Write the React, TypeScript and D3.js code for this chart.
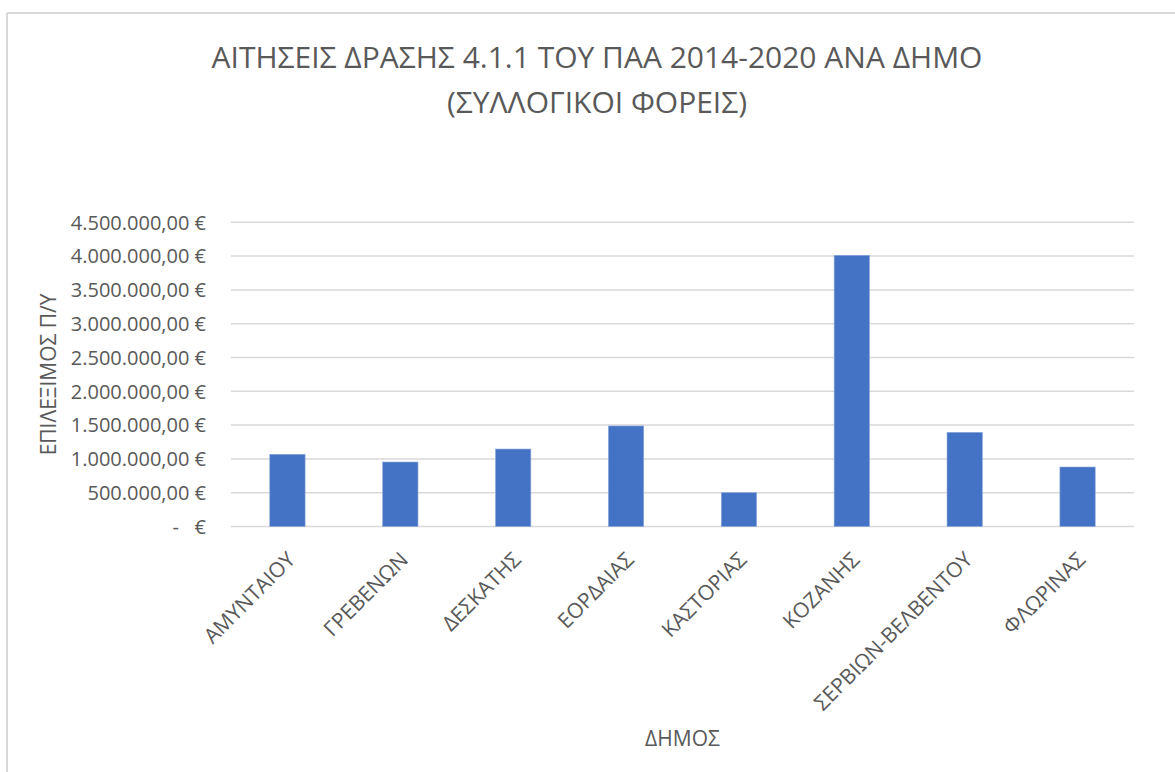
import React from "react";
import * as d3 from "d3";

const categories = [
  "ΑΜΥΝΤΑΙΟΥ",
  "ΓΡΕΒΕΝΩΝ",
  "ΔΕΣΚΑΤΗΣ",
  "ΕΟΡΔΑΙΑΣ",
  "ΚΑΣΤΟΡΙΑΣ",
  "ΚΟΖΑΝΗΣ",
  "ΣΕΡΒΙΩΝ-ΒΕΛΒΕΝΤΟΥ",
  "ΦΛΩΡΙΝΑΣ",
];
const values = [1068000, 954000, 1146000, 1487000, 502000, 4012000, 1393000, 880000];
const yTicks = [0, 500000, 1000000, 1500000, 2000000, 2500000, 3000000, 3500000, 4000000, 4500000];
const yTickLabels = [
  "-   €",
  "500.000,00 €",
  "1.000.000,00 €",
  "1.500.000,00 €",
  "2.000.000,00 €",
  "2.500.000,00 €",
  "3.000.000,00 €",
  "3.500.000,00 €",
  "4.000.000,00 €",
  "4.500.000,00 €",
];
const titleLines = ["ΑΙΤΗΣΕΙΣ ΔΡΑΣΗΣ 4.1.1 ΤΟΥ ΠΑΑ 2014-2020 ΑΝΑ ΔΗΜΟ", "(ΣΥΛΛΟΓΙΚΟΙ ΦΟΡΕΙΣ)"];
const yAxisTitle = "ΕΠΙΛΕΞΙΜΟΣ Π/Υ";
const xAxisTitle = "ΔΗΜΟΣ";

const W = 1175;
const H = 772;
const plot = { left: 231, right: 1134, top: 222.3, bottom: 526.5 };
const FONT = "'Open Sans', 'Noto Sans', sans-serif";
const TEXT = "#595959";
const GRID = "#d9d9d9";
const BAR = "#4472c4";

export default function App() {
  const x = d3
    .scaleBand<string>()
    .domain(categories)
    .range([plot.left, plot.right])
    .paddingInner(0.687)
    .paddingOuter(0.3435);
  const y = d3.scaleLinear().domain([0, 4500000]).range([plot.bottom, plot.top]);

  return (
    <svg
      width={W}
      height={H}
      style={{ position: "absolute", left: 0, top: 0, background: "#fff" }}
      fontFamily={FONT}
    >
      <rect x={0} y={0} width={W} height={H} fill="#fff" />
      {/* chart border (top and left visible) */}
      <line x1={7} x2={W} y1={13} y2={13} stroke={GRID} strokeWidth={2} />
      <line x1={7} x2={7} y1={13} y2={H} stroke={GRID} strokeWidth={2} />

      {/* title */}
      {titleLines.map((t, i) => (
        <text key={i} x={597} y={68 + i * 45} textAnchor="middle" fontSize={30} fill={TEXT}>
          {t}
        </text>
      ))}

      {/* gridlines + y labels */}
      {yTicks.map((v, i) => (
        <g key={v}>
          <line x1={plot.left} x2={plot.right} y1={y(v)} y2={y(v)} stroke={GRID} strokeWidth={1.5} />
          <text
            x={206}
            y={y(v)}
            dy="0.36em"
            textAnchor="end"
            fontSize={20}
            fill={TEXT}
            style={{ whiteSpace: "pre" }}
          >
            {yTickLabels[i]}
          </text>
        </g>
      ))}

      {/* bars */}
      {categories.map((c, i) => (
        <rect
          key={c}
          x={x(c)}
          y={y(values[i])}
          width={x.bandwidth()}
          height={y(0) - y(values[i])}
          fill={BAR}
          stroke="#8eaadb"
          strokeWidth={0.6}
        />
      ))}

      {/* x category labels */}
      {categories.map((c) => {
        const cx = (x(c) as number) + x.bandwidth() / 2;
        return (
          <text
            key={c}
            transform={`translate(${cx + 9},${561}) rotate(-45)`}
            textAnchor="end"
            fontSize={21}
            fill={TEXT}
          >
            {c}
          </text>
        );
      })}

      {/* axis titles */}
      <text
        transform={`translate(56,${(plot.top + plot.bottom) / 2}) rotate(-90)`}
        textAnchor="middle"
        fontSize={21}
        fill={TEXT}
      >
        {yAxisTitle}
      </text>
      <text x={(plot.left + plot.right) / 2} y={746} textAnchor="middle" fontSize={21} fill={TEXT}>
        {xAxisTitle}
      </text>
    </svg>
  );
}
